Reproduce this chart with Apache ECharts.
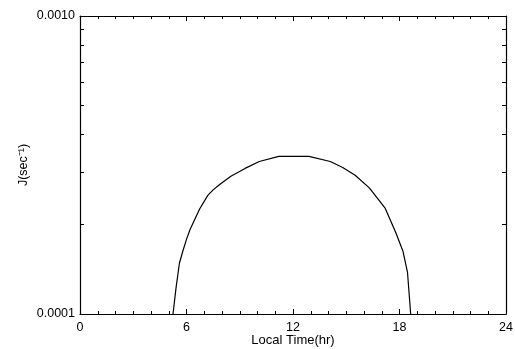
<!DOCTYPE html>
<html>
<head>
<meta charset="utf-8">
<script src="https://cdn.jsdelivr.net/npm/echarts@6/dist/echarts.min.js"></script>
<style>
html,body{margin:0;padding:0;background:#fff;}
#chart{width:515px;height:349px;}
</style>
</head>
<body>
<div id="chart"></div>
<script>
// Data
var hours = [5.24, 5.4, 5.6, 5.8, 6.0, 6.2, 6.74, 7.2, 7.5, 7.87, 8.5, 9.3, 10.1, 11.2, 12.9, 14.1, 14.8, 15.5, 16.3, 17.2, 17.8, 18.2, 18.45, 18.63];
var J = [1.0e-4, 1.21e-4, 1.48e-4, 1.63e-4, 1.78e-4, 1.92e-4, 2.25e-4, 2.5e-4, 2.61e-4, 2.72e-4, 2.9e-4, 3.08e-4, 3.25e-4, 3.38e-4, 3.38e-4, 3.25e-4, 3.1e-4, 2.92e-4, 2.65e-4, 2.26e-4, 1.87e-4, 1.62e-4, 1.38e-4, 1.0e-4];
var xTicks = [0, 6, 12, 18, 24];
var yLabelValues = [0.0001, 0.001];
var yTickValues = [0.0001, 0.0002, 0.0003, 0.0004, 0.0005, 0.0006, 0.0007, 0.0008, 0.0009, 0.001];
var xName = 'Local Time(hr)';
var yName = 'J(sec\u207B\u00B9)';

var FONT = 'Liberation Sans';
var lineStyle = {color: '#000', width: 1.2};
var pts = hours.map(function (h, i) { return [h, J[i]]; });

function xAxisDef(pos, labels) {
  return {
    type: 'value', position: pos, min: xTicks[0], max: xTicks[xTicks.length - 1], interval: 6,
    axisLine: {show: true, onZero: false, lineStyle: lineStyle},
    axisTick: {show: true, inside: true, length: 5, lineStyle: {color: '#000', width: 1}},
    minorTick: {show: true, splitNumber: 6, length: 3, lineStyle: {color: '#000', width: 1}},
    splitLine: {show: false},
    axisLabel: {show: labels, color: '#000', fontFamily: FONT, fontSize: 12.5, margin: 7},
    name: labels ? xName : '', nameLocation: 'middle', nameGap: 20, nameMoveOverlap: false,
    nameTextStyle: {color: '#000', fontFamily: FONT, fontSize: 13}
  };
}
function yAxisDef(pos, labels) {
  return {
    type: 'log', logBase: 10, position: pos, min: yLabelValues[0], max: yLabelValues[1],
    axisLine: {show: true, onZero: false, lineStyle: lineStyle},
    axisTick: {show: true, inside: true, length: 4, customValues: yTickValues, lineStyle: {color: '#000', width: 1}},
    splitLine: {show: false},
    axisLabel: {show: labels, customValues: yLabelValues, color: '#000', fontFamily: FONT, fontSize: 12.5, margin: 5,
      formatter: function (v) { return Number(v).toFixed(4); }},
    name: labels ? yName : '', nameLocation: 'middle', nameRotate: 90, nameGap: 50, nameMoveOverlap: false,
    nameTextStyle: {color: '#000', fontFamily: FONT, fontSize: 12.5}
  };
}

var chart = echarts.init(document.getElementById('chart'), null, {renderer: 'canvas'});
chart.setOption({
  animation: false,
  backgroundColor: '#fff',
  grid: {left: 80, top: 16, right: 9, bottom: 35, containLabel: false, outerBoundsMode: 'none'},
  xAxis: [xAxisDef('bottom', true), xAxisDef('top', false)],
  yAxis: [yAxisDef('left', true), yAxisDef('right', false)],
  series: [{
    type: 'line', xAxisIndex: 0, yAxisIndex: 0, data: pts,
    showSymbol: false, smooth: false, clip: true,
    lineStyle: {color: '#000', width: 1.2}
  }]
});
</script>
</body>
</html>
